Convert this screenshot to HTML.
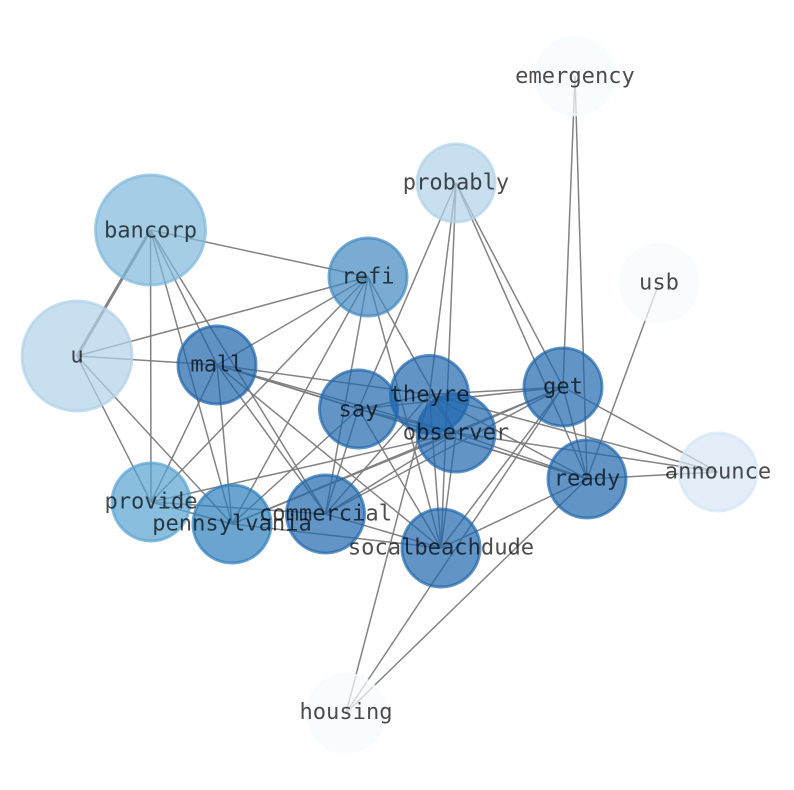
<!DOCTYPE html>
<html>
<head>
<meta charset="utf-8">
<style>
html,body{margin:0;padding:0;background:#fff;width:794px;height:790px;overflow:hidden}
svg{display:block}
text{font-family:"DejaVu Sans Mono","Liberation Mono",monospace;font-size:22.1px;fill:#000;fill-opacity:.7;text-anchor:middle}
line{stroke:#7c7c7c;stroke-opacity:.95;stroke-width:1.5}
circle{stroke-width:3;fill-opacity:.7;stroke-opacity:.7}
</style>
</head>
<body>
<svg width="794" height="790" viewBox="0 0 794 790" xmlns="http://www.w3.org/2000/svg">
<g>
<line x1="150.5" y1="230" x2="77" y2="356" style="stroke-width:3"/>
<line x1="150.5" y1="230" x2="368" y2="277"/>
<line x1="150.5" y1="230" x2="151" y2="502"/>
<line x1="150.5" y1="230" x2="232" y2="524"/>
<line x1="150.5" y1="230" x2="217" y2="365"/>
<line x1="150.5" y1="230" x2="325.5" y2="514"/>
<line x1="77" y1="356" x2="368" y2="277"/>
<line x1="77" y1="356" x2="217" y2="365"/>
<line x1="77" y1="356" x2="151" y2="502"/>
<line x1="77" y1="356" x2="232" y2="524"/>
<line x1="368" y1="277" x2="217" y2="365"/>
<line x1="368" y1="277" x2="151" y2="502"/>
<line x1="368" y1="277" x2="232" y2="524"/>
<line x1="368" y1="277" x2="325.5" y2="514"/>
<line x1="368" y1="277" x2="456" y2="433"/>
<line x1="368" y1="277" x2="441" y2="548"/>
<line x1="217" y1="365" x2="151" y2="502"/>
<line x1="217" y1="365" x2="232" y2="524"/>
<line x1="217" y1="365" x2="325.5" y2="514"/>
<line x1="217" y1="365" x2="441" y2="548"/>
<line x1="217" y1="365" x2="358.5" y2="409"/>
<line x1="217" y1="365" x2="429.5" y2="394.5"/>
<line x1="217" y1="365" x2="456" y2="433"/>
<line x1="217" y1="365" x2="587" y2="479"/>
<line x1="358.5" y1="409" x2="429.5" y2="394.5"/>
<line x1="358.5" y1="409" x2="456" y2="433"/>
<line x1="358.5" y1="409" x2="563" y2="387"/>
<line x1="358.5" y1="409" x2="587" y2="479"/>
<line x1="358.5" y1="409" x2="232" y2="524"/>
<line x1="358.5" y1="409" x2="325.5" y2="514"/>
<line x1="358.5" y1="409" x2="441" y2="548"/>
<line x1="429.5" y1="394.5" x2="456" y2="433"/>
<line x1="429.5" y1="394.5" x2="563" y2="387"/>
<line x1="429.5" y1="394.5" x2="587" y2="479"/>
<line x1="429.5" y1="394.5" x2="718" y2="472"/>
<line x1="429.5" y1="394.5" x2="325.5" y2="514"/>
<line x1="429.5" y1="394.5" x2="441" y2="548"/>
<line x1="429.5" y1="394.5" x2="346" y2="713"/>
<line x1="456" y1="433" x2="563" y2="387"/>
<line x1="456" y1="433" x2="587" y2="479"/>
<line x1="456" y1="433" x2="718" y2="472"/>
<line x1="456" y1="433" x2="151" y2="502"/>
<line x1="456" y1="433" x2="232" y2="524"/>
<line x1="456" y1="433" x2="325.5" y2="514"/>
<line x1="456" y1="433" x2="441" y2="548"/>
<line x1="563" y1="387" x2="587" y2="479"/>
<line x1="563" y1="387" x2="718" y2="472"/>
<line x1="563" y1="387" x2="232" y2="524"/>
<line x1="563" y1="387" x2="325.5" y2="514"/>
<line x1="563" y1="387" x2="441" y2="548"/>
<line x1="563" y1="387" x2="346" y2="713"/>
<line x1="587" y1="479" x2="718" y2="472"/>
<line x1="587" y1="479" x2="441" y2="548"/>
<line x1="587" y1="479" x2="346" y2="713"/>
<line x1="456" y1="183" x2="358.5" y2="409"/>
<line x1="456" y1="183" x2="429.5" y2="394.5"/>
<line x1="456" y1="183" x2="441" y2="548"/>
<line x1="456" y1="183" x2="563" y2="387"/>
<line x1="456" y1="183" x2="587" y2="479"/>
<line x1="575" y1="76" x2="563" y2="387"/>
<line x1="575" y1="76" x2="587" y2="479"/>
<line x1="659" y1="283" x2="587" y2="479"/>
<line x1="151" y1="502" x2="232" y2="524"/>
<line x1="151" y1="502" x2="325.5" y2="514"/>
<line x1="232" y1="524" x2="441" y2="548"/>
<line x1="325.5" y1="514" x2="441" y2="548"/>
</g>
<g>
<circle cx="150.5" cy="230" r="55" fill="#7fb9dc" stroke="#7fb9dc"/>
<circle cx="77" cy="356" r="55" fill="#b0d2e8" stroke="#b0d2e8"/>
<circle cx="368" cy="277" r="39" fill="#4289c0" stroke="#4289c0"/>
<circle cx="217" cy="365" r="39" fill="#1c64ab" stroke="#1c64ab"/>
<circle cx="358.5" cy="409" r="39" fill="#1f66ad" stroke="#1f66ad"/>
<circle cx="429.5" cy="394.5" r="39" fill="#1f66ad" stroke="#1f66ad"/>
<circle cx="456" cy="433" r="39" fill="#1f66ad" stroke="#1f66ad"/>
<circle cx="563" cy="387" r="39" fill="#1f66ad" stroke="#1f66ad"/>
<circle cx="587" cy="479" r="39" fill="#1f66ad" stroke="#1f66ad"/>
<circle cx="718" cy="472" r="39" fill="#d6e5f4" stroke="#d6e5f4"/>
<circle cx="659" cy="283" r="39" fill="#f5fbff" stroke="#f5fbff"/>
<circle cx="575" cy="76" r="39" fill="#f5fbff" stroke="#f5fbff"/>
<circle cx="456" cy="183" r="39" fill="#b0d2e8" stroke="#b0d2e8"/>
<circle cx="151" cy="502" r="39" fill="#58a2d2" stroke="#58a2d2"/>
<circle cx="232" cy="524" r="39" fill="#2e7ebc" stroke="#2e7ebc"/>
<circle cx="325.5" cy="514" r="39" fill="#1f66ad" stroke="#1f66ad"/>
<circle cx="441" cy="548" r="39" fill="#1f66ad" stroke="#1f66ad"/>
<circle cx="346" cy="713" r="39" fill="#f5fbff" stroke="#f5fbff"/>
</g>
<g>
<text x="150.5" y="237.5">bancorp</text>
<text x="77" y="362.5">u</text>
<text x="368" y="283.5">refi</text>
<text x="217" y="371.5">mall</text>
<text x="358.5" y="416.5">say</text>
<text x="429.5" y="401.5">theyre</text>
<text x="456" y="439.5">observer</text>
<text x="563" y="393.5">get</text>
<text x="587" y="485.5">ready</text>
<text x="718" y="478.5">announce</text>
<text x="659" y="289.5">usb</text>
<text x="575" y="83">emergency</text>
<text x="456" y="189.5">probably</text>
<text x="151" y="508.5">provide</text>
<text x="232" y="530.5">pennsylvania</text>
<text x="325.5" y="520.5">commercial</text>
<text x="441" y="554.5">socalbeachdude</text>
<text x="346" y="719">housing</text>
</g>
</svg>
</body>
</html>
